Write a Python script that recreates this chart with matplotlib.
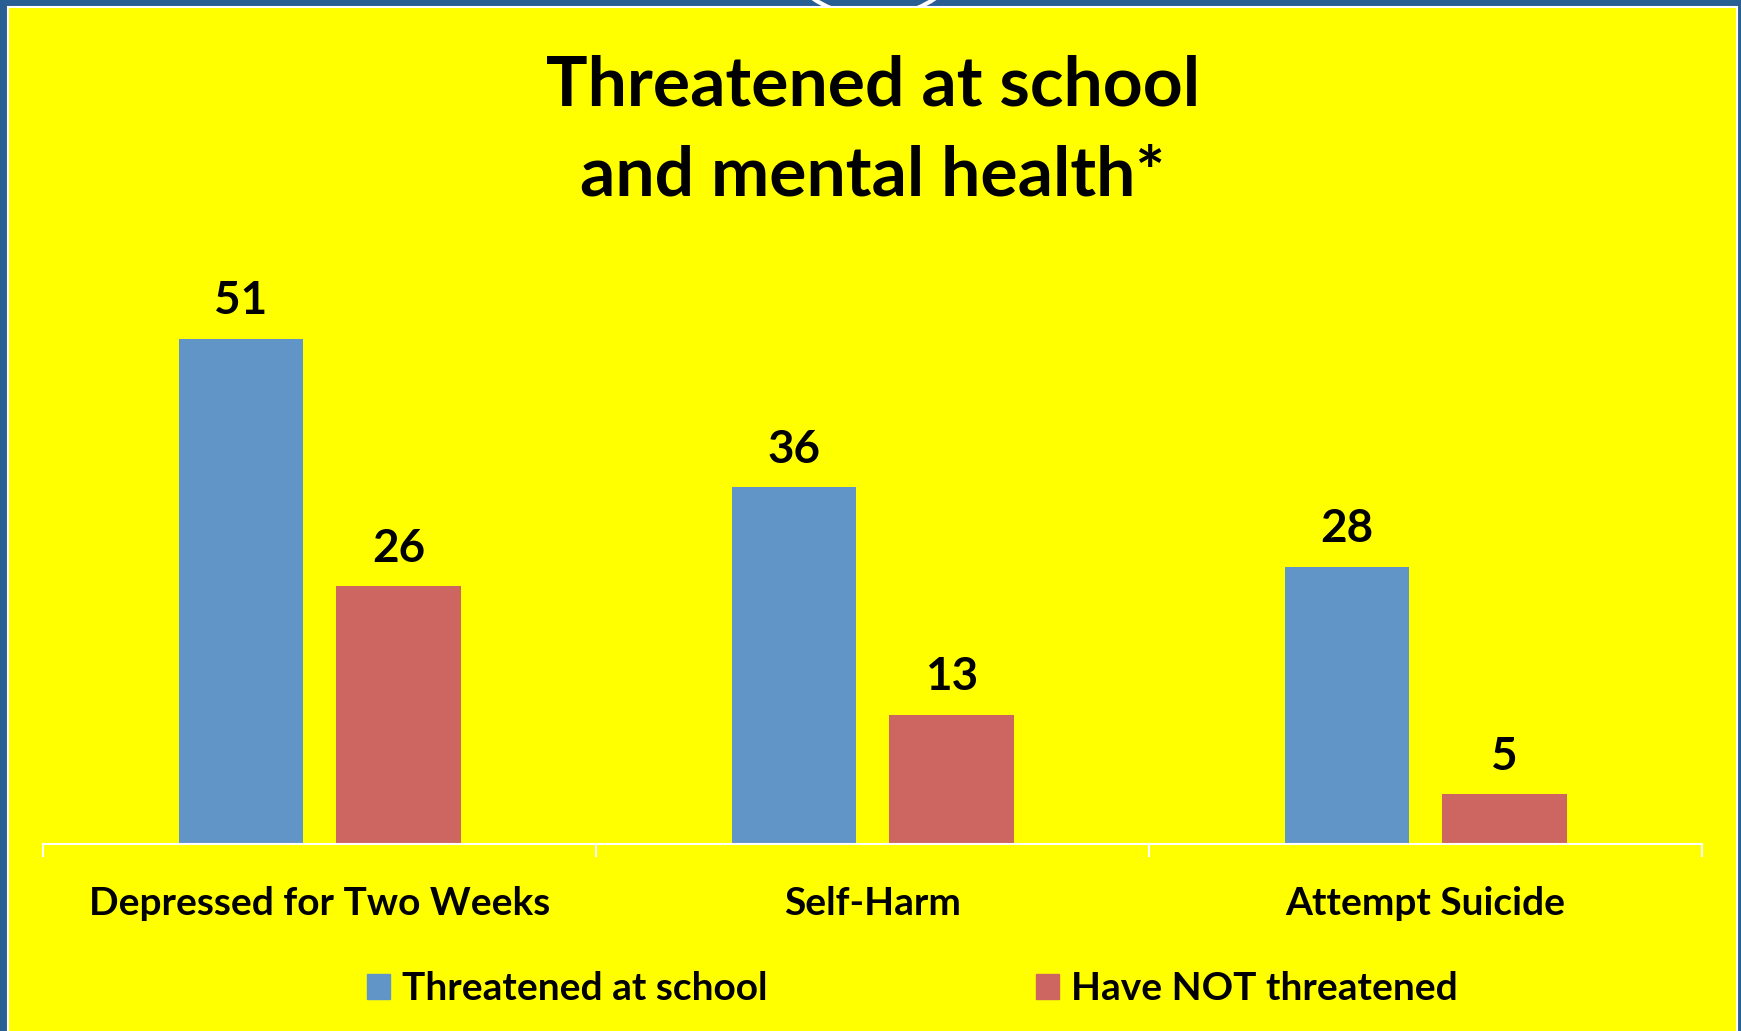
import matplotlib.pyplot as plt
import numpy as np
from matplotlib.patches import Rectangle, Ellipse, Patch

categories = ["Depressed for Two Weeks", "Self-Harm", "Attempt Suicide"]
threatened = [51, 36, 28]
not_threatened = [26, 13, 5]
series_names = ["Threatened at school", "Have NOT threatened"]

blue = "#6195C8"
red = "#CD6660"
yellow = "#FFFF00"
border = "#2A5F94"

W, H = 1741, 1031
fig = plt.figure(figsize=(W / 100, H / 100), dpi=100)
fig.patch.set_facecolor(border)

# slide decoration: white ring peeking out above the yellow panel
fig.patches.append(Ellipse((874 / W, (H + 93) / H), 220 / W, 220 / H,
                           transform=fig.transFigure, facecolor="none",
                           edgecolor="white", lw=3, zorder=0))
fig.patches.append(Rectangle((8 / W, -0.01), 1729 / W, (H - 7) / H + 0.01,
                             transform=fig.transFigure, facecolor=yellow,
                             edgecolor="white", lw=1.5, zorder=1))

font = "Lato"
ax = fig.add_axes([43.3 / W, 187.1 / H, 1658.9 / W, 594.3 / H])
ax.set_facecolor("none")
ax.set_zorder(2)

x = np.arange(len(categories))
w = 0.225
off = 0.1426
b1 = ax.bar(x - off, threatened, w, color=blue, label=series_names[0])
b2 = ax.bar(x + off, not_threatened, w, color=red, label=series_names[1])

for bars in (b1, b2):
    for r in bars:
        ax.annotate(f"{r.get_height():g}", (r.get_x() + r.get_width() / 2, r.get_height()),
                    xytext=(0, 12), textcoords="offset points", ha="center", va="bottom",
                    fontsize=33, fontweight="bold", family=font)

ax.set_xlim(-0.5, len(categories) - 0.5)
ax.set_ylim(0, 60)
ax.set_yticks([])
ax.set_xticks(np.arange(len(categories) + 1) - 0.5)
ax.set_xticklabels([])
ax.set_xticks(x, minor=True)
ax.set_xticklabels(categories, minor=True, fontsize=28, fontweight="bold", family=font)
ax.tick_params(axis="x", which="major", direction="out", length=9, width=1.5, color="white")
ax.tick_params(axis="x", which="minor", length=0, pad=30)
for s in ["top", "right", "left"]:
    ax.spines[s].set_visible(False)
ax.spines["bottom"].set_color("white")
ax.spines["bottom"].set_linewidth(1.5)

handles = [Patch(color=blue), Patch(color=red)]
fig.legend(handles, series_names, loc="center", bbox_to_anchor=(912 / W, 1 - 989 / H),
           ncol=2, frameon=False, handlelength=0.6, handleheight=0.6, handletextpad=0.3,
           columnspacing=6.9, prop={"family": font, "weight": "bold", "size": 28})

fig.text(873 / W, 1 - 54 / H, "Threatened at school\nand mental health*", ha="center", va="top",
         fontsize=50, fontweight="bold", family=font, linespacing=1.53)

fig.savefig("out.png", dpi=100, facecolor=fig.get_facecolor())
